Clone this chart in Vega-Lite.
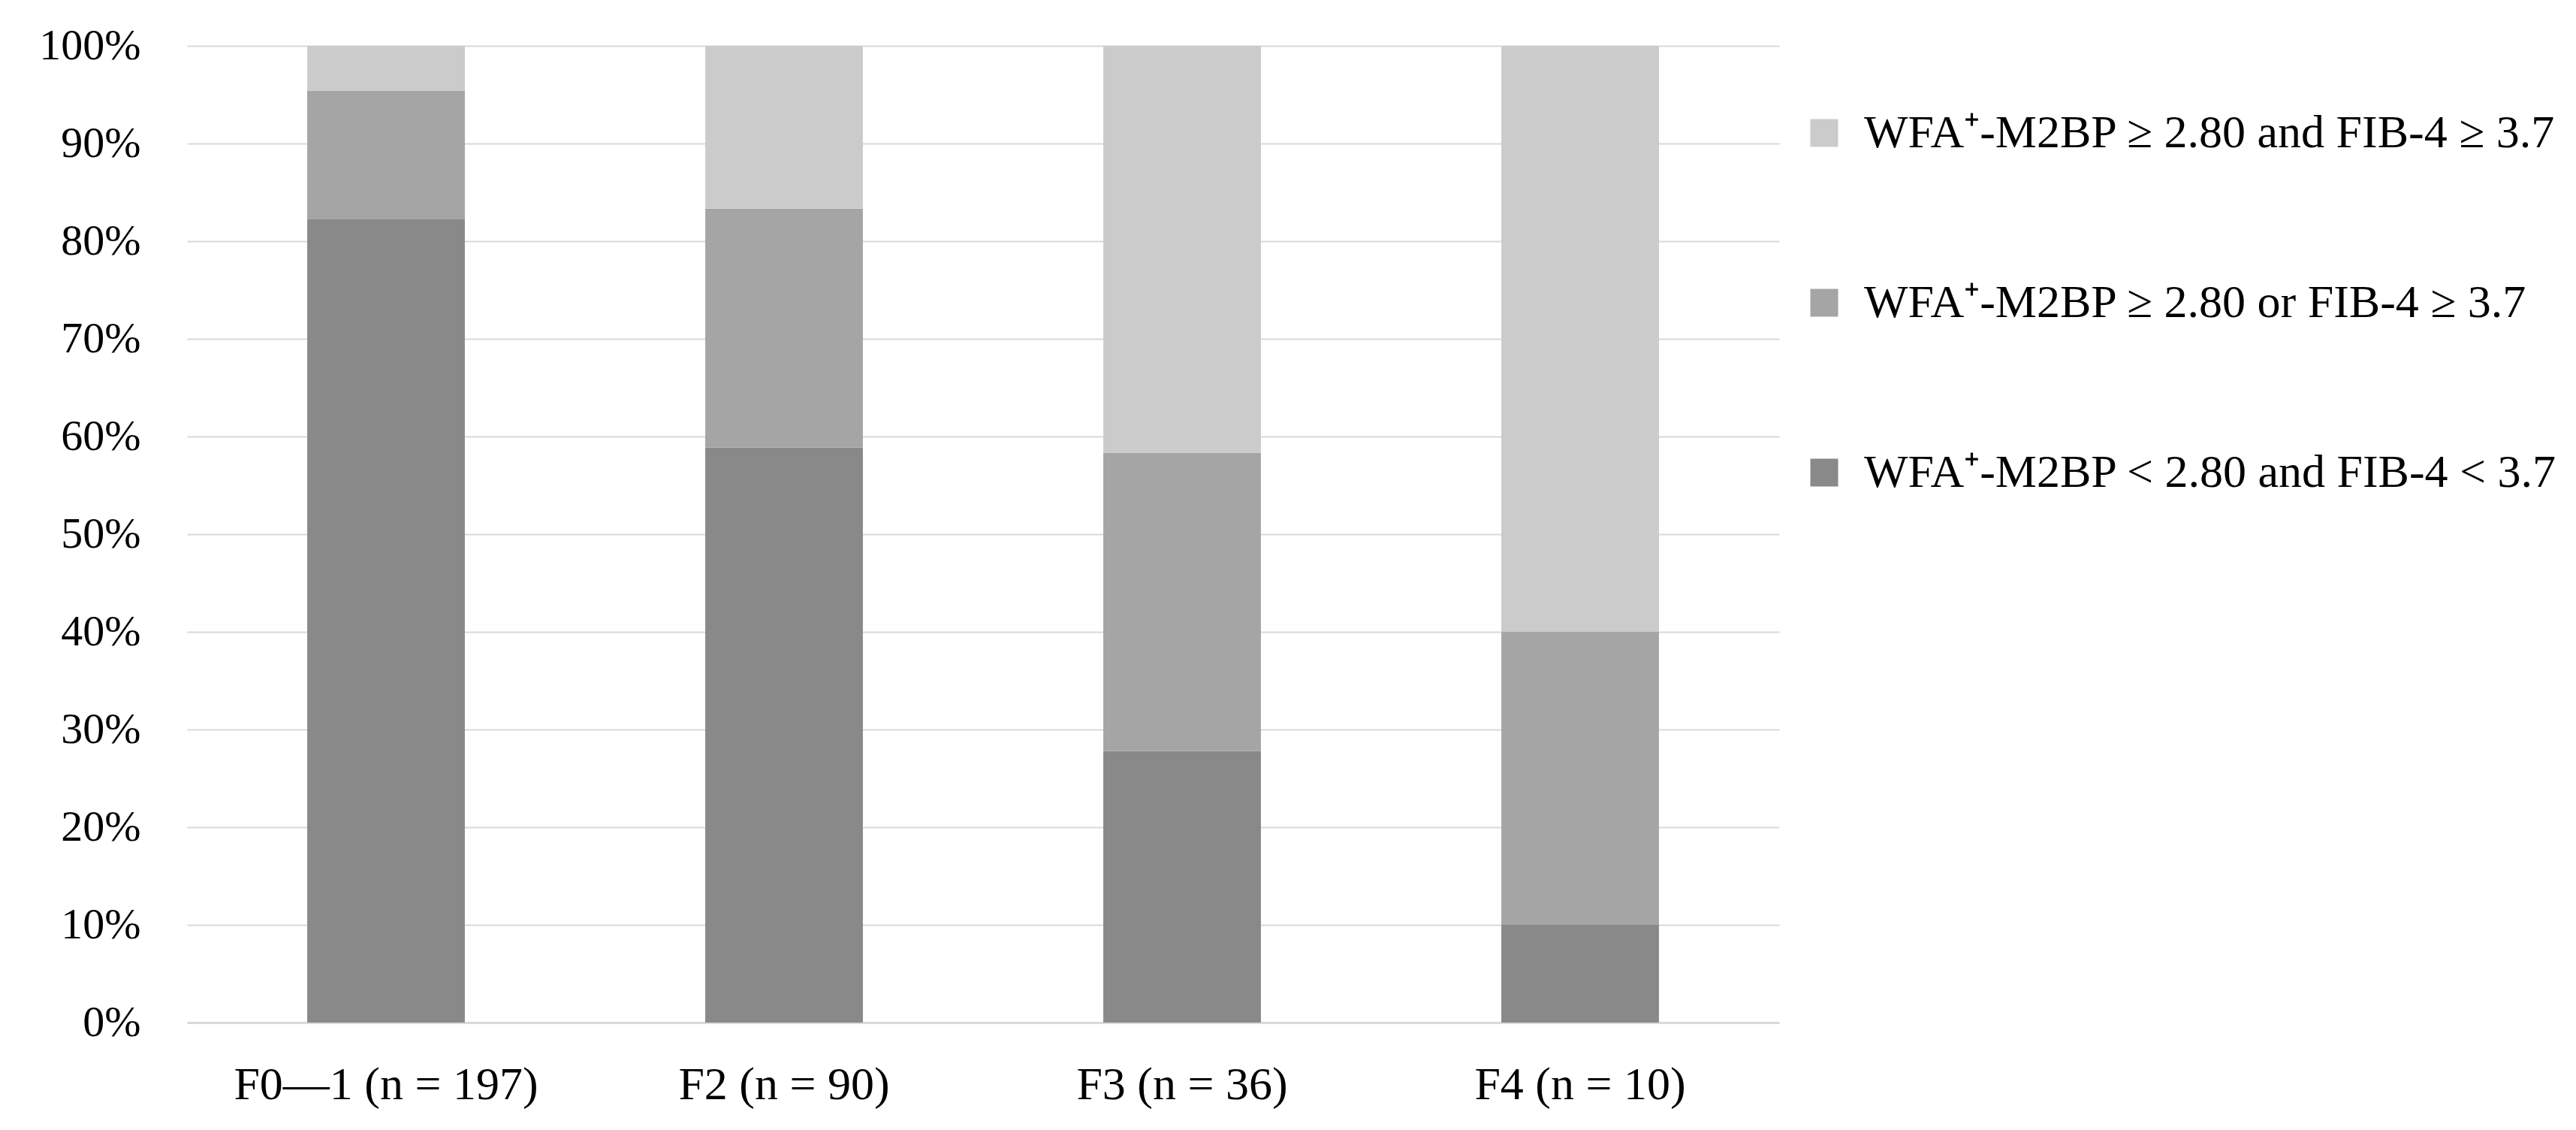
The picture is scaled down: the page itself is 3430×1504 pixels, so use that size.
{
  "$schema": "https://vega.github.io/schema/vega-lite/v6.json",
  "autosize": {"type": "none"},
  "width": 2120,
  "height": 1300,
  "padding": {"left": 249, "top": 61, "right": 1061, "bottom": 143},
  "background": "white",
  "config": {
    "view": {"stroke": null},
    "font": "Liberation Serif"
  },
  "data": {
    "values": [
      {"group": "F0—1 (n = 197)", "category": "WFA⁺-M2BP < 2.80 and FIB-4 < 3.7", "rank": 1, "value": 82.23},
      {"group": "F0—1 (n = 197)", "category": "WFA⁺-M2BP ≥ 2.80 or FIB-4 ≥ 3.7", "rank": 2, "value": 13.20},
      {"group": "F0—1 (n = 197)", "category": "WFA⁺-M2BP ≥ 2.80 and FIB-4 ≥ 3.7", "rank": 3, "value": 4.57},
      {"group": "F2 (n = 90)", "category": "WFA⁺-M2BP < 2.80 and FIB-4 < 3.7", "rank": 1, "value": 58.89},
      {"group": "F2 (n = 90)", "category": "WFA⁺-M2BP ≥ 2.80 or FIB-4 ≥ 3.7", "rank": 2, "value": 24.44},
      {"group": "F2 (n = 90)", "category": "WFA⁺-M2BP ≥ 2.80 and FIB-4 ≥ 3.7", "rank": 3, "value": 16.67},
      {"group": "F3 (n = 36)", "category": "WFA⁺-M2BP < 2.80 and FIB-4 < 3.7", "rank": 1, "value": 27.78},
      {"group": "F3 (n = 36)", "category": "WFA⁺-M2BP ≥ 2.80 or FIB-4 ≥ 3.7", "rank": 2, "value": 30.56},
      {"group": "F3 (n = 36)", "category": "WFA⁺-M2BP ≥ 2.80 and FIB-4 ≥ 3.7", "rank": 3, "value": 41.66},
      {"group": "F4 (n = 10)", "category": "WFA⁺-M2BP < 2.80 and FIB-4 < 3.7", "rank": 1, "value": 10},
      {"group": "F4 (n = 10)", "category": "WFA⁺-M2BP ≥ 2.80 or FIB-4 ≥ 3.7", "rank": 2, "value": 30},
      {"group": "F4 (n = 10)", "category": "WFA⁺-M2BP ≥ 2.80 and FIB-4 ≥ 3.7", "rank": 3, "value": 60}
    ]
  },
  "mark": {"type": "bar"},
  "encoding": {
    "x": {
      "field": "group",
      "type": "nominal",
      "sort": null,
      "scale": {"paddingInner": 0.604, "paddingOuter": 0.302},
      "axis": {
        "title": null,
        "labelAngle": 0,
        "labelFont": "Liberation Serif",
        "labelFontSize": 62,
        "labelColor": "#000000",
        "labelPadding": 52,
        "labelLimit": 1000,
        "labelOverlap": false,
        "ticks": false,
        "domain": true,
        "domainColor": "#d9d9d9",
        "domainWidth": 3,
        "grid": false
      }
    },
    "y": {
      "field": "value",
      "type": "quantitative",
      "stack": "zero",
      "scale": {"domain": [0, 100], "nice": false},
      "axis": {
        "title": null,
        "values": [0, 10, 20, 30, 40, 50, 60, 70, 80, 90, 100],
        "labelExpr": "datum.value + '%'",
        "labelFont": "Liberation Serif",
        "labelFontSize": 58,
        "labelColor": "#000000",
        "labelPadding": 62,
        "ticks": false,
        "domain": false,
        "grid": true,
        "gridColor": "#d9d9d9",
        "gridWidth": 2
      }
    },
    "color": {
      "field": "category",
      "type": "nominal",
      "scale": {
        "domain": [
          "WFA⁺-M2BP ≥ 2.80 and FIB-4 ≥ 3.7",
          "WFA⁺-M2BP ≥ 2.80 or FIB-4 ≥ 3.7",
          "WFA⁺-M2BP < 2.80 and FIB-4 < 3.7"
        ],
        "range": ["#cbcbcb", "#a5a5a5", "#898989"]
      },
      "legend": {
        "title": null,
        "orient": "none",
        "legendX": 2149,
        "legendY": 85,
        "padding": 0,
        "symbolType": "square",
        "symbolSize": 1369,
        "symbolStrokeWidth": 0,
        "labelFont": "Liberation Serif",
        "labelFontSize": 62,
        "labelColor": "#000000",
        "labelOffset": 22,
        "labelLimit": 1200,
        "rowPadding": 164
      }
    },
    "order": {"field": "rank", "type": "quantitative", "sort": "ascending"}
  }
}
